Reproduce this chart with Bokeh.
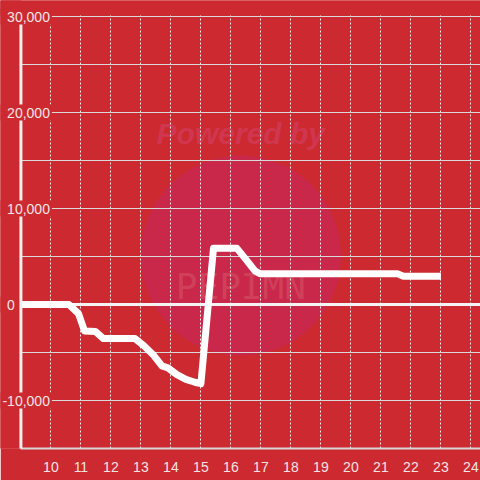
from bokeh.plotting import figure
from bokeh.models import Range1d, FixedTicker, SingleIntervalTicker
from bokeh.core.properties import value
from bokeh.embed import file_html
from bokeh.resources import INLINE

# data
hours = [9.0, 10.6, 10.92, 11.12, 11.48, 11.75, 12.8, 13.1, 13.4, 13.7, 13.9, 14.2, 14.5, 14.8, 15.0,
         15.42, 16.2, 16.5, 16.8, 16.97, 21.55, 21.75, 23.0]
values = [0, 0, -950, -2750, -2800, -3550, -3550, -4300, -5200, -6400, -6600, -7300, -7800, -8100, -8250,
          5850, 5850, 4700, 3500, 3200, 3200, 2950, 2950]

x_ticks = list(range(10, 25))
y_ticks = [-10000, 0, 10000, 20000, 30000]
y_tick_labels = ["-10,000", "0", "10,000", "20,000", "30,000"]
x_start = 9.0
y_min, y_max = -15000, 30000

BG = "#cc2a30"
TXT = "#f3e4e4"
FONT = "Liberation Sans"
FS = 14

W, H, BOTTOM = 480, 480, 32
xr = Range1d(8.32, 24.32)
yr = Range1d(y_min, 31667)
p = figure(width=W, height=H, output_backend="svg", toolbar_location=None,
           x_range=xr, y_range=yr,
           min_border_left=0, min_border_right=0, min_border_top=0, min_border_bottom=BOTTOM)
p.background_fill_color = BG
p.border_fill_color = BG
p.outline_line_color = None

px_x = (xr.end - xr.start) / W              # data units per pixel
px_y = (yr.end - yr.start) / (H - BOTTOM)

# watermark
p.scatter(x=[16.33], y=[5100], size=200, fill_color="#c9284a", line_color=None, level="image")
p.text(x=[16.33], y=[17800], text=["Powered by"], text_font=value(FONT), text_font_style="bold italic",
       text_font_size="30px", text_color="#d23a5a", text_alpha=0.75, text_align="center",
       text_baseline="middle", level="image")
p.text(x=[16.33], y=[1900], text=["PEPIMN"], text_font=value("DejaVu Sans Mono"),
       text_font_size="36px", text_color="#d8586c", text_alpha=0.5, text_align="center",
       text_baseline="middle", level="image")

# x axis
p.xaxis.ticker = FixedTicker(ticks=x_ticks)
p.xaxis.bounds = (x_start, xr.end)
p.xaxis.axis_line_color = "#d6d6d6"
p.xaxis.axis_line_width = 2
p.xaxis.major_tick_line_color = None
p.xaxis.minor_tick_line_color = None
p.xaxis.major_label_text_font = FONT
p.xaxis.major_label_text_font_size = f"{FS}px"
p.xaxis.major_label_text_color = TXT
p.xaxis.major_label_standoff = 7

# y axis: line drawn as a segment, labels as text over it
p.yaxis.visible = False

# grids
p.ygrid.ticker = SingleIntervalTicker(interval=10000, num_minor_ticks=2)
p.ygrid.grid_line_color = "#d9d9d9"
p.ygrid.grid_line_width = 1
p.ygrid.minor_grid_line_color = "#d9d9d9"
p.ygrid.minor_grid_line_width = 1
p.xgrid.grid_line_color = "#e8e8e8"
p.xgrid.grid_line_dash = "2 2"
p.xgrid.grid_line_width = 1

# zero line
p.segment(x0=[x_start], y0=[0], x1=[xr.end], y1=[0], line_color="#f4f4f4", line_width=3)

p.line(hours, values, line_color="white", line_width=7, line_join="round", line_cap="butt")

# blank out the area left of the y axis and above the top tick
p.quad(left=[xr.start], right=[x_start], bottom=[yr.start], top=[yr.end],
       fill_color=BG, line_color=None, level="annotation")
p.quad(left=[xr.start], right=[xr.end], bottom=[y_max + px_y], top=[yr.end],
       fill_color=BG, line_color=None, level="annotation")

# y axis line
p.segment(x0=[x_start], y0=[y_min], x1=[x_start], y1=[y_max], line_color="#f4f0f0", line_width=3,
          level="annotation")

# y tick labels with a background box that hides the axis and grid behind them
char_w = {",": 0.278, "-": 0.333}
lefts, rights = [], []
for lbl in y_tick_labels:
    left_px = 6.6 - (FS * char_w["-"] if lbl.startswith("-") else 0)
    width_px = sum(FS * char_w.get(c, 0.556) for c in lbl)
    lefts.append(xr.start + left_px * px_x)
    rights.append(xr.start + (left_px + width_px + 2) * px_x)
p.quad(left=[xr.start] * len(y_ticks), right=rights,
       bottom=[t - 8 * px_y for t in y_ticks], top=[t + 8 * px_y for t in y_ticks],
       fill_color=BG, line_color=None, level="annotation")
p.text(x=lefts, y=y_ticks, text=y_tick_labels,
       text_align="left", text_baseline="middle", text_font=value(FONT), text_font_size=f"{FS}px",
       text_color=TXT, level="annotation")

open("out.html", "w").write(file_html(p, INLINE))
